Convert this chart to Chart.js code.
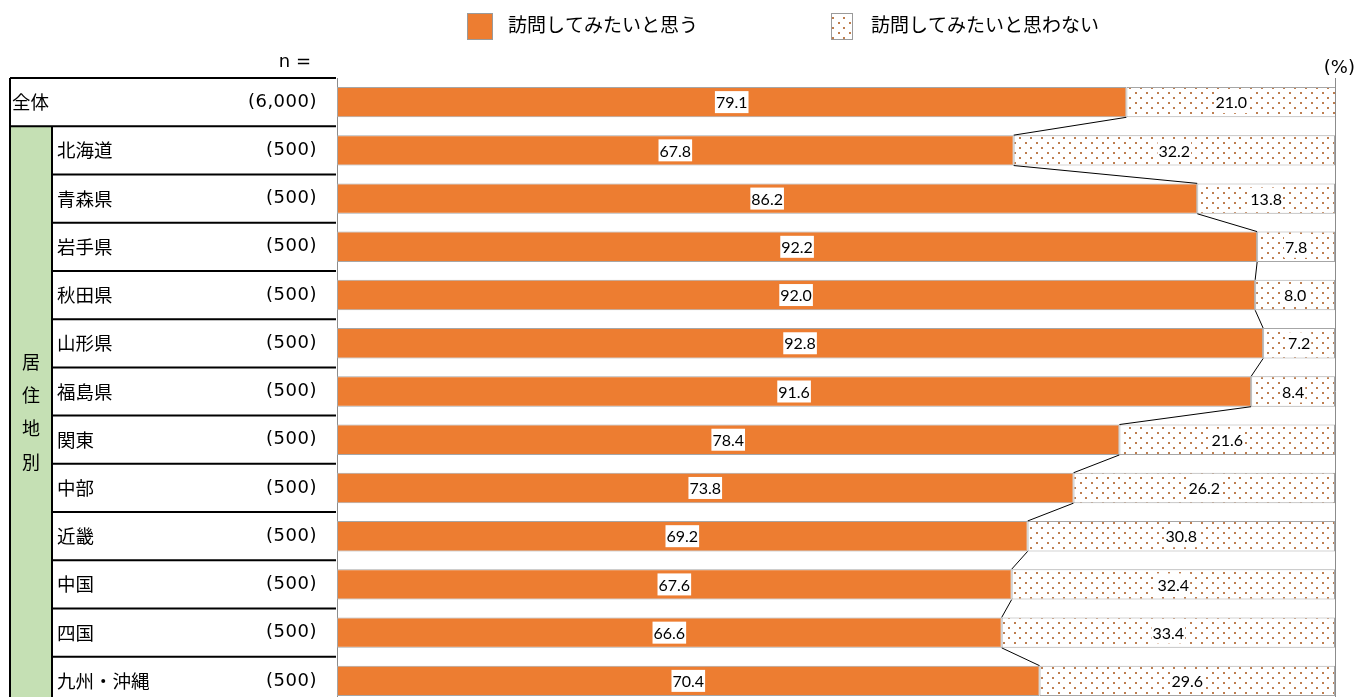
<!DOCTYPE html>
<html>
<head>
<meta charset="utf-8">
<script src="https://cdn.jsdelivr.net/npm/chart.js@4"></script>
<style>
  html, body { margin: 0; padding: 0; background: #fff; overflow: hidden; }
  #wrap { position: relative; width: 1359px; height: 720px; }
</style>
</head>
<body>
<div id="wrap"><canvas id="myBarChart" width="1359" height="720"></canvas></div>
<script>
// Data
var regions = ['全体', '北海道', '青森県', '岩手県', '秋田県', '山形県', '福島県', '関東', '中部', '近畿', '中国', '四国', '九州・沖縄'];
var sampleSizes = ['(6,000)', '(500)', '(500)', '(500)', '(500)', '(500)', '(500)', '(500)', '(500)', '(500)', '(500)', '(500)', '(500)'];
var wantVisit = [79.1, 67.8, 86.2, 92.2, 92.0, 92.8, 91.6, 78.4, 73.8, 69.2, 67.6, 66.6, 70.4];
var notWantVisit = [21.0, 32.2, 13.8, 7.8, 8.0, 7.2, 8.4, 21.6, 26.2, 30.8, 32.4, 33.4, 29.6];
var seriesNames = ['訪問してみたいと思う', '訪問してみたいと思わない'];
var groupLabel = '居住地別';

var JP = '"Noto Sans CJK JP", sans-serif';
var NUM = '"DejaVu Sans", sans-serif';
var VAL = 'Lato, "Noto Sans", sans-serif';

// dotted fill for the second series
function makeDots() {
    var c = document.createElement('canvas');
    c.width = 11; c.height = 10;
    var g = c.getContext('2d');
    g.fillStyle = '#fff';
    g.fillRect(0, 0, 11, 10);
    g.fillStyle = '#BE7E50';
    g.fillRect(2, 2, 2, 2);
    g.fillRect(7, 7, 2, 2);
    return document.getElementById('myBarChart').getContext('2d').createPattern(c, 'repeat');
}
var dots = makeDots();

// table on the left, legend, connector lines, value labels
var decorations = {
    id: 'decorations',
    beforeDatasetsDraw: function (chart) {
        var ctx = chart.ctx;
        var x = chart.scales.x, y = chart.scales.y;
        var area = chart.chartArea;
        var rowH = (area.bottom - area.top) / regions.length;
        ctx.save();
        // plot frame verticals at 0 and 100
        ctx.strokeStyle = '#8c8c8c';
        ctx.lineWidth = 1;
        [0, 100].forEach(function (v) {
            var px = Math.round(x.getPixelForValue(v)) + 0.5;
            ctx.beginPath();
            ctx.moveTo(px, area.top);
            ctx.lineTo(px, area.bottom);
            ctx.stroke();
        });

        // green group cell
        var tLeft = 10, tMid = 52, tRight = area.left - 1;
        ctx.fillStyle = '#C5E0B4';
        ctx.fillRect(tLeft, area.top + rowH, tMid - tLeft, area.bottom - area.top - rowH);

        // table lines
        ctx.strokeStyle = '#000';
        ctx.lineWidth = 2;
        ctx.beginPath();
        ctx.moveTo(tLeft, area.top); ctx.lineTo(tRight, area.top);
        ctx.moveTo(tLeft, area.top + rowH); ctx.lineTo(tRight, area.top + rowH);
        for (var i = 2; i <= regions.length; i++) {
            var ly = area.top + rowH * i;
            ctx.moveTo(tMid, ly); ctx.lineTo(tRight, ly);
        }
        ctx.moveTo(tLeft, area.top); ctx.lineTo(tLeft, area.bottom);
        ctx.moveTo(tMid, area.top + rowH); ctx.lineTo(tMid, area.bottom);
        ctx.stroke();

        // row texts
        ctx.fillStyle = '#000';
        ctx.textBaseline = 'middle';
        regions.forEach(function (r, i) {
            var cy = y.getPixelForValue(i);
            ctx.font = '18.5px ' + JP;
            ctx.letterSpacing = '0px';
            ctx.textAlign = 'left';
            ctx.fillText(r, i === 0 ? 12 : 57, cy);
            ctx.font = '18px ' + NUM;
            ctx.letterSpacing = '0.5px';
            ctx.textAlign = 'right';
            ctx.fillText(sampleSizes[i], 317, cy);
        });
        ctx.letterSpacing = '0px';
        // vertical group label
        ctx.font = '18px ' + JP;
        ctx.textAlign = 'center';
        groupLabel.split('').forEach(function (ch, k) {
            ctx.fillText(ch, 31, 362 + k * 33.3);
        });

        ctx.font = '18px ' + NUM;
        ctx.textAlign = 'right';
        ctx.fillText('n =', 311, 62);
        ctx.fillText('(%)', 1355, 68);

        // legend
        ctx.textAlign = 'left';
        ctx.fillStyle = '#ED7D31';
        ctx.fillRect(467, 13, 26, 27);
        ctx.strokeStyle = '#9a9a9a';
        ctx.lineWidth = 1;
        ctx.strokeRect(467.5, 13.5, 25, 26);
        ctx.fillStyle = dots;
        ctx.fillRect(831, 13, 22, 27);
        ctx.strokeRect(831.5, 13.5, 21, 26);
        ctx.fillStyle = '#000';
        ctx.font = '19px ' + JP;
        ctx.fillText(seriesNames[0], 508, 25);
        ctx.fillText(seriesNames[1], 871, 25);
        ctx.restore();
    },
    afterDatasetsDraw: function (chart) {
        var ctx = chart.ctx;
        var m0 = chart.getDatasetMeta(0), m1 = chart.getDatasetMeta(1);
        ctx.save();
        // connector lines between bar ends
        ctx.strokeStyle = '#000';
        ctx.lineWidth = 1;
        for (var i = 0; i < m0.data.length - 1; i++) {
            var a = m0.data[i], b = m0.data[i + 1];
            ctx.beginPath();
            ctx.moveTo(a.x, a.y + a.height / 2);
            ctx.lineTo(b.x, b.y - b.height / 2);
            ctx.stroke();
        }
        // value labels with white boxes
        ctx.font = '16px ' + VAL;
        ctx.textAlign = 'center';
        ctx.textBaseline = 'middle';
        [m0, m1].forEach(function (meta, d) {
            var vals = d === 0 ? wantVisit : notWantVisit;
            meta.data.forEach(function (bar, i) {
                var txt = vals[i].toFixed(1);
                var cx = (bar.x + bar.base) / 2;
                var w = ctx.measureText(txt).width + 2;
                ctx.fillStyle = '#fff';
                ctx.fillRect(cx - w / 2, bar.y - 11, w, 22);
                ctx.fillStyle = '#000';
                ctx.fillText(txt, cx, bar.y + 1);
            });
        });
        ctx.restore();
    }
};

var ctx = document.getElementById('myBarChart').getContext('2d');
var myBarChart = new Chart(ctx, {
    type: 'bar',
    data: {
        labels: regions,
        datasets: [
            {
                label: seriesNames[0],
                data: wantVisit,
                backgroundColor: '#ED7D31',
                borderColor: '#a6a6a6',
                borderWidth: 1,
                borderSkipped: false
            },
            {
                label: seriesNames[1],
                data: notWantVisit,
                backgroundColor: dots,
                borderColor: '#a6a6a6',
                borderWidth: 1,
                borderSkipped: false
            }
        ]
    },
    options: {
        indexAxis: 'y',
        responsive: false,
        animation: false,
        layout: { padding: { left: 337, right: 24, top: 78, bottom: 15 } },
        datasets: { bar: { categoryPercentage: 1, barPercentage: 0.63 } },
        plugins: { legend: { display: false }, tooltip: { enabled: false } },
        scales: {
            x: { stacked: true, min: 0, max: 100, display: false },
            y: { stacked: true, display: false }
        }
    },
    plugins: [decorations]
});
</script>
</body>
</html>
